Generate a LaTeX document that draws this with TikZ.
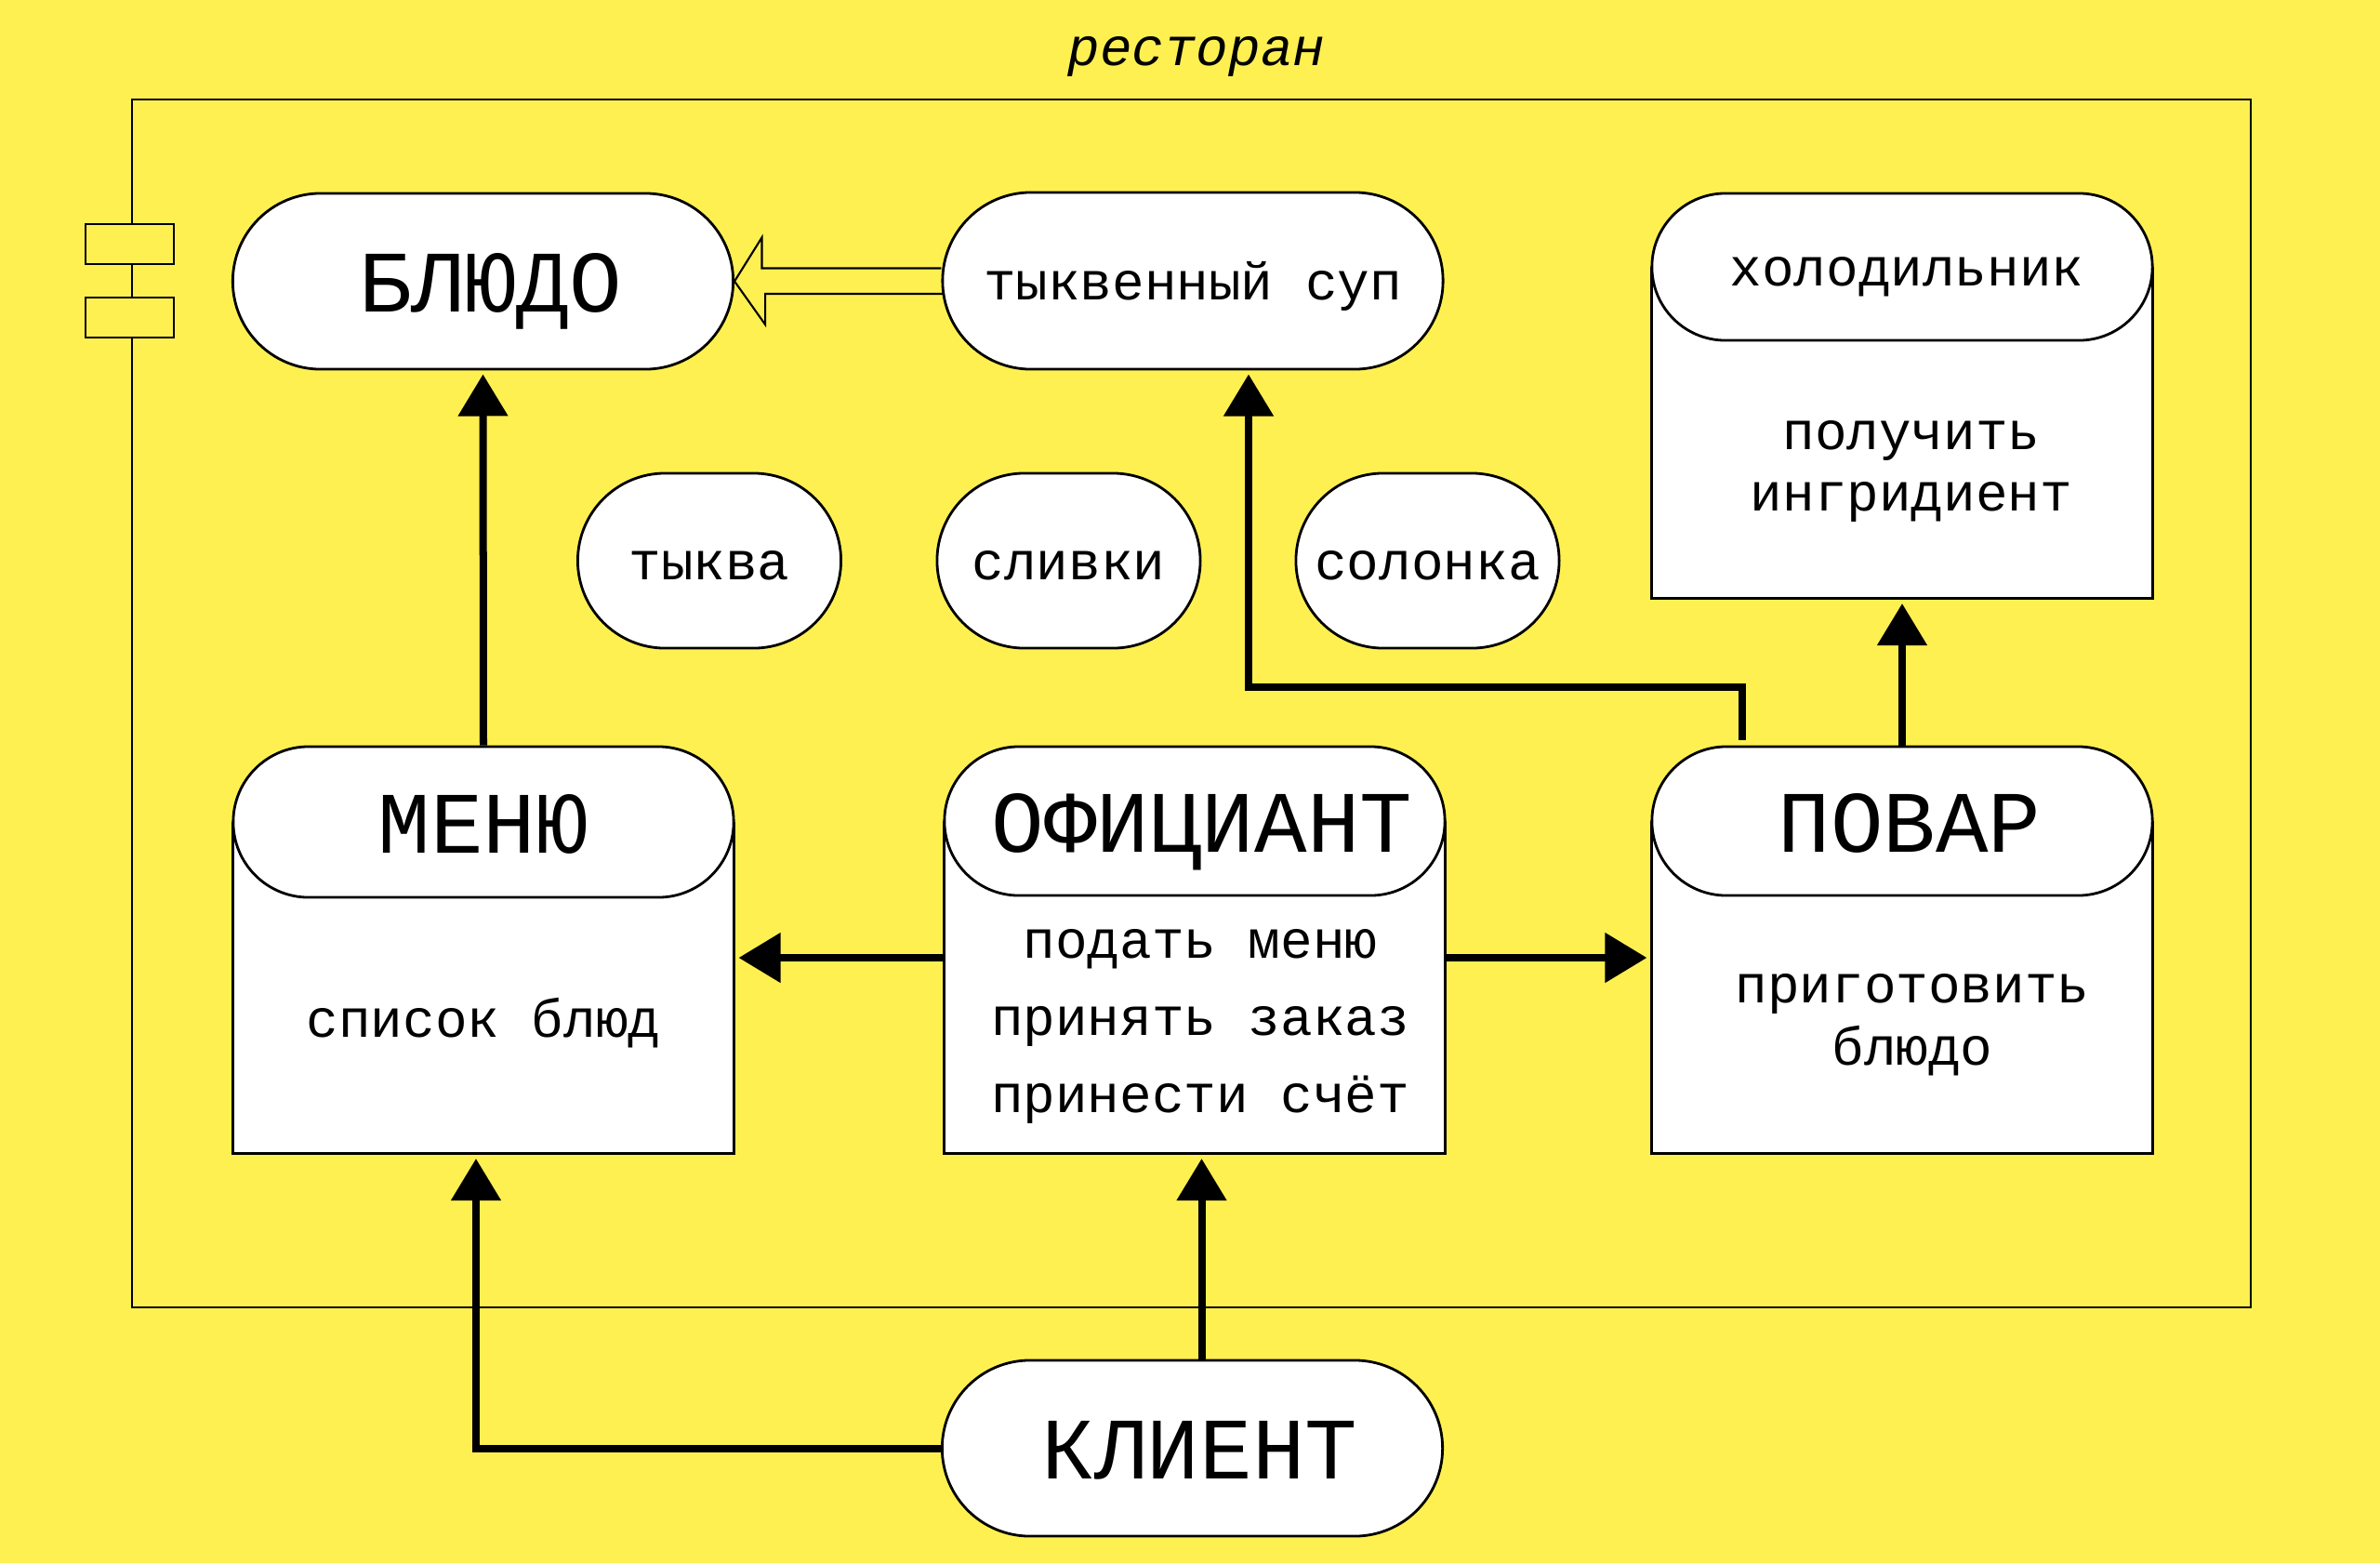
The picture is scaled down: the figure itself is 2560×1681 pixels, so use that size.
\documentclass[tikz,border=0pt]{standalone}
\usepackage{fontspec}
\usepackage{xcolor}
\usepackage{tikz}
\usetikzlibrary{shapes.misc,arrows.meta}
\newfontfamily\labelfont{Liberation Mono}
\definecolor{bgyellow}{RGB}{255,240,82}
\tikzset{
  stadium/.style={rounded rectangle, draw=black, line width=0.8pt, fill=white, inner sep=0pt, minimum width=5.38cm},
  bigtext/.style={font=\labelfont\fontsize{26.8}{30}\selectfont, text height=0.66cm, text depth=0pt},
  smalltext/.style={font=\labelfont\fontsize{16.4}{19}\selectfont},
  smallstadium/.style={stadium, smalltext, text height=0.4cm, text depth=0pt},
  bodybox/.style={draw=black, line width=0.8pt, fill=white, inner sep=0pt, minimum width=5.38cm, anchor=north},
  conn/.style={line width=0.08cm, -{Triangle[length=0.45cm,width=0.52cm]}, shorten >=0.04cm},
  hollowarrow/.style={draw=black, line width=0.6pt, line join=miter},
}
\begin{document}
\begin{tikzpicture}[x=0.01cm, y=-0.01cm]
  \def\bodyh{3.55cm};
  \def\nudge{\hspace*{0.16cm}};
  \fill[bgyellow] (0,0) rectangle (2560,1681);
  \useasboundingbox (0,0) rectangle (2560,1681);

  \node[smalltext, anchor=base, font=\labelfont\itshape\fontsize{16.4}{19}\selectfont] (title) at (1287,70) {ресторан};
  \draw[line width=0.6pt] (142,107) rectangle (2421,1406); %restaurant frame%
  \draw[line width=0.6pt, fill=bgyellow] (92,241) rectangle (187,284);
  \draw[line width=0.6pt, fill=bgyellow] (92,320) rectangle (187,363);

  % bodies behind the heads
  \node[bodybox, minimum height=\bodyh] (fridgebody) at (2046,287) {};
  \node[bodybox, minimum height=\bodyh] (menubody) at (520,884) {};
  \node[bodybox, minimum height=3.56cm] (waiterbody) at (1285,883) {};
  \node[bodybox, minimum height=3.56cm] (cookbody) at (2046,883) {};

  % heads
  \node[stadium, bigtext, minimum height=1.89cm] (blyudo) at (519.5,302.5) {\nudge БЛЮДО};
  \node[smallstadium, minimum height=1.9cm] (sup) at (1283,302) {тыквенный суп};
  \node[smallstadium, minimum width=2.83cm, minimum height=1.88cm] (tykva) at (763,603) {тыква};
  \node[smallstadium, minimum width=2.83cm, minimum height=1.88cm] (slivki) at (1149.5,603) {сливки};
  \node[smallstadium, minimum width=2.83cm, minimum height=1.88cm] (solonka) at (1535.5,603) {солонка};
  \node[smallstadium, minimum height=1.58cm] (fridge) at (2046,287) {\hspace*{0.1cm}холодильник};
  \node[stadium, bigtext, minimum height=1.62cm] (menu) at (520,884) {МЕНЮ};
  \node[stadium, bigtext, minimum height=1.6cm] (waiter) at (1285,883) {\nudge ОФИЦИАНТ};
  \node[stadium, bigtext, minimum height=1.6cm] (cook) at (2046,883) {\nudge ПОВАР};
  \node[stadium, bigtext, minimum height=1.89cm] (client) at (1282.5,1557.5) {\nudge КЛИЕНТ};

  % texts in the bodies
  \node[smalltext, align=center] (fridgetext) at (2056,507) {получить\\ингридиент};
  \node[smalltext] (menutext) at (520,1100) {список блюд};
  \node[smalltext, align=center, font=\labelfont\fontsize{16.4}{23.6}\selectfont] (waitertext) at (1291,1104) {подать меню\\принять заказ\\принести счёт};
  \node[smalltext, align=center] (cooktext) at (2057,1102) {приготовить\\блюдо};

  % connectors
  \coordinate (rowmid) at (0,1030);
  \coordinate (supbend) at (1343,739);
  \draw[hollowarrow] (sup.west) ++(0,-13.5) -- ++(-193,0) -- ++(0,-33) -- (blyudo.east) -- ++(33,46.5) -- ++(0,-33) -- ++(193,0);
  \draw[conn] (menu.north) -- (blyudo.south);
  \draw[conn] (waiterbody.west |- rowmid) -- (menubody.east |- rowmid);
  \draw[conn] (waiterbody.east |- rowmid) -- (cookbody.west |- rowmid);
  \draw[conn] (cook.north) -- (fridgebody.south);
  \draw[conn] ([xshift=-1.72cm,yshift=0.06cm]cook.north) |- (supbend) -- (supbend |- sup.south);
  \draw[conn] (client.west) -| ([xshift=-0.08cm]menubody.south);
  \draw[conn] ([xshift=0.1cm]client.north) -- ([xshift=0.1cm]client.north |- waiterbody.south);
\end{tikzpicture}
\end{document}
